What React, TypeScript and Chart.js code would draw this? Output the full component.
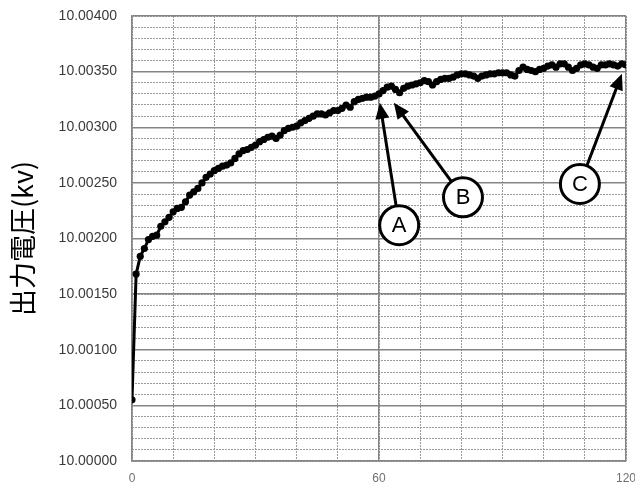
import React, { useEffect, useRef } from 'react';
import { Chart, registerables } from 'chart.js';

Chart.register(...registerables);

// Elapsed time (minutes)
const minutes = [
  0, 1, 2, 3, 4, 5, 6, 7, 8, 9, 10, 11, 12, 13, 14, 15, 16, 17, 18, 19,
  20, 21, 22, 23, 24, 25, 26, 27, 28, 29, 30, 31, 32, 33, 34, 35, 36, 37, 38, 39,
  40, 41, 42, 43, 44, 45, 46, 47, 48, 49, 50, 51, 52, 53, 54, 55, 56, 57, 58, 59,
  60, 61, 62, 63, 64, 65, 66, 67, 68, 69, 70, 71, 72, 73, 74, 75, 76, 77, 78, 79,
  80, 81, 82, 83, 84, 85, 86, 87, 88, 89, 90, 91, 92, 93, 94, 95, 96, 97, 98, 99,
  100, 101, 102, 103, 104, 105, 106, 107, 108, 109, 110, 111, 112, 113, 114, 115, 116, 117, 118, 119,
  120,
];

// Output voltage (kV)
const voltages = [
  10.00055, 10.00168, 10.00184, 10.00191, 10.00199, 10.00202, 10.00203, 10.00211, 10.00215, 10.00219,
  10.00224, 10.00227, 10.00228, 10.00233, 10.00239, 10.00242, 10.00245, 10.00250, 10.00255, 10.00258,
  10.00261, 10.00263, 10.00265, 10.00266, 10.00268, 10.00272, 10.00276, 10.00279, 10.00280, 10.00282,
  10.00284, 10.00287, 10.00289, 10.00291, 10.00292, 10.00290, 10.00293, 10.00297, 10.00299, 10.00300,
  10.00301, 10.00304, 10.00306, 10.00308, 10.00310, 10.00312, 10.00312, 10.00311, 10.00313, 10.00315,
  10.00315, 10.00317, 10.00320, 10.00318, 10.00323, 10.00325, 10.00326, 10.00327, 10.00327, 10.00328,
  10.00330, 10.00333, 10.00336, 10.00337, 10.00334, 10.00331, 10.00335, 10.00337, 10.00338, 10.00339,
  10.00340, 10.00342, 10.00341, 10.00338, 10.00341, 10.00343, 10.00344, 10.00344, 10.00345, 10.00347,
  10.00348, 10.00348, 10.00347, 10.00346, 10.00344, 10.00346, 10.00347, 10.00348, 10.00348, 10.00349,
  10.00349, 10.00349, 10.00347, 10.00346, 10.00351, 10.00354, 10.00352, 10.00351, 10.00350, 10.00352,
  10.00353, 10.00355, 10.00356, 10.00354, 10.00357, 10.00357, 10.00354, 10.00351, 10.00353, 10.00356,
  10.00357, 10.00356, 10.00354, 10.00353, 10.00356, 10.00356, 10.00357, 10.00356, 10.00355, 10.00357,
  10.00356,
];

// Axis ranges / tick steps
const xMin = 0;
const xMax = 120;
const xMajorStep = 60;
const xMinorStep = 10;
const yMin = 10.0;
const yMax = 10.004;
const yMajorStep = 0.0005;
const yMinorStep = 0.0001;

const yAxisTitle = '出力電圧(kv)';

// Callouts (data coordinates)
const calloutLabels = ['A', 'B', 'C'];
const calloutTipX = [60.2, 63.6, 119];
const calloutTipY = [10.00322, 10.00322, 10.00348];
const calloutCircleX = [64.9, 80.4, 108.8];
const calloutCircleY = [10.00212, 10.00237, 10.00249];

const calloutPlugin = {
  id: 'callouts',
  afterDatasetsDraw(chart: any) {
    const { ctx } = chart;
    const xs = chart.scales.x;
    const ys = chart.scales.y;
    const r = 19.5;
    const headLen = 16;
    const headW = 7;
    ctx.save();
    for (let i = 0; i < calloutLabels.length; i++) {
      const cx = xs.getPixelForValue(calloutCircleX[i]);
      const cy = ys.getPixelForValue(calloutCircleY[i]);
      const tx = xs.getPixelForValue(calloutTipX[i]);
      const ty = ys.getPixelForValue(calloutTipY[i]);
      const dx = tx - cx;
      const dy = ty - cy;
      const len = Math.hypot(dx, dy);
      const ux = dx / len;
      const uy = dy / len;
      const sx = cx + ux * r;
      const sy = cy + uy * r;
      const bx = tx - ux * headLen;
      const by = ty - uy * headLen;
      ctx.strokeStyle = '#000';
      ctx.lineWidth = 3;
      ctx.setLineDash([]);
      ctx.beginPath();
      ctx.moveTo(sx, sy);
      ctx.lineTo(bx + ux * 2, by + uy * 2);
      ctx.stroke();
      ctx.fillStyle = '#000';
      ctx.beginPath();
      ctx.moveTo(tx, ty);
      ctx.lineTo(bx - uy * headW, by + ux * headW);
      ctx.lineTo(bx + uy * headW, by - ux * headW);
      ctx.closePath();
      ctx.fill();
      ctx.beginPath();
      ctx.arc(cx, cy, r, 0, Math.PI * 2);
      ctx.fillStyle = '#fff';
      ctx.fill();
      ctx.lineWidth = 3;
      ctx.stroke();
      ctx.fillStyle = '#000';
      ctx.font = '22px "Liberation Sans", Arial, sans-serif';
      ctx.textAlign = 'center';
      ctx.textBaseline = 'middle';
      ctx.fillText(calloutLabels[i], cx, cy + 1);
    }
    ctx.restore();
  },
};

export default function App() {
  const canvasRef = useRef<HTMLCanvasElement | null>(null);

  useEffect(() => {
    if (!canvasRef.current) return;
    const chart = new Chart(canvasRef.current, {
      type: 'line',
      data: {
        datasets: [
          {
            data: minutes.map((m, i) => ({ x: m, y: voltages[i] })),
            borderColor: '#000',
            backgroundColor: '#000',
            borderWidth: 3,
            pointRadius: 3.6,
            pointBackgroundColor: '#000',
            pointBorderWidth: 0,
            tension: 0,
            fill: false,
          },
        ],
      },
      options: {
        animation: false,
        responsive: true,
        maintainAspectRatio: false,
        layout: { padding: { top: 16, right: 9, left: 0, bottom: 0 } },
        plugins: {
          legend: { display: false },
          tooltip: { enabled: false },
        },
        scales: {
          x: {
            type: 'linear',
            position: 'bottom',
            min: xMin,
            max: xMax,
            ticks: {
              stepSize: xMajorStep,
              autoSkip: false,
              maxRotation: 0,
              padding: 10,
              color: '#707070',
              font: { family: '"Liberation Sans", Arial, sans-serif', size: 12 },
            },
            grid: { color: '#858585', lineWidth: 1.4, drawTicks: false, z: 0 },
            border: { color: '#858585', width: 1.4 },
            afterFit(s: any) {
              s.height = 29;
              s.paddingLeft = 0;
              s.paddingRight = 0;
            },
          },
          xMinor: {
            type: 'linear',
            position: 'top',
            min: xMin,
            max: xMax,
            ticks: { display: false, stepSize: xMinorStep },
            grid: { color: '#9a9a9a', lineWidth: 1, drawTicks: false, z: -1 },
            border: { display: false, dash: [2, 1] },
            afterFit(s: any) {
              s.height = 0;
              s.paddingLeft = 0;
              s.paddingRight = 0;
            },
          },
          y: {
            type: 'linear',
            position: 'left',
            min: yMin,
            max: yMax,
            ticks: {
              stepSize: yMajorStep,
              autoSkip: false,
              padding: 15,
              color: '#3a3a3a',
              font: { family: '"Liberation Sans", Arial, sans-serif', size: 14 },
              callback: (v: any) => Number(v).toFixed(5),
            },
            grid: { color: '#858585', lineWidth: 1.4, drawTicks: false, z: 0 },
            border: { color: '#858585', width: 1.4 },
            title: {
              display: true,
              text: yAxisTitle,
              color: '#000',
              font: { family: '"Noto Sans CJK JP", sans-serif', size: 27 },
              padding: { top: 7, bottom: 0 },
            },
            afterFit(s: any) {
              s.width = 132;
              s.paddingTop = 0;
              s.paddingBottom = 0;
            },
          },
          yMinor: {
            type: 'linear',
            position: 'right',
            min: yMin,
            max: yMax,
            ticks: { display: false, stepSize: yMinorStep },
            grid: { color: '#9a9a9a', lineWidth: 1, drawTicks: false, z: -1 },
            border: { display: false, dash: [2, 1] },
            afterFit(s: any) {
              s.width = 0;
              s.paddingTop = 0;
              s.paddingBottom = 0;
            },
          },
        },
      } as any,
      plugins: [calloutPlugin],
    });
    return () => chart.destroy();
  }, []);

  return (
    <div style={{ position: 'absolute', left: 0, top: 0, width: 635, height: 490, background: '#fff' }}>
      <canvas ref={canvasRef} />
    </div>
  );
}
